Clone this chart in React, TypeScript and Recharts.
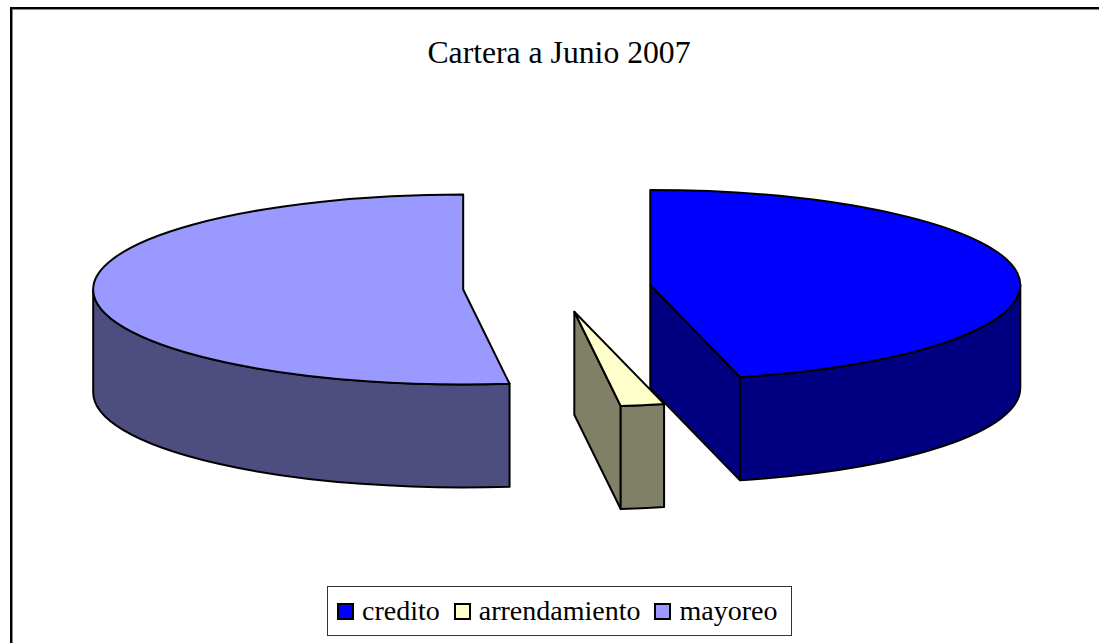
import React from 'react';
import { PieChart, Pie, Legend } from 'recharts';

const names = ['credito', 'arrendamiento', 'mayoreo'];
const values = [46.1, 1.9, 52.0];
const topColors = ['#0000FF', '#FFFFCC', '#9999FF'];
const sideColors = ['#000080', '#808066', '#4D4D80'];

const data = names.map((name, i) => ({ name, value: values[i], fill: topColors[i], side: sideColors[i] }));

const W = 1089, H = 636;
const RX = 370, RY = 95, DEPTH = 103, EXPLODE = 94;
const K = RY / RX;

const Slice3D = (props: any) => {
  const { cx, cy, startAngle, endAngle, fill, payload } = props;
  const side = payload?.side ?? props.side;
  const t0 = 90 - Math.max(startAngle, endAngle);
  const t1 = 90 - Math.min(startAngle, endAngle);
  const rad = (d: number) => (d * Math.PI) / 180;
  const mid = rad((t0 + t1) / 2);
  const ox = cx + EXPLODE * Math.sin(mid);
  const oy = cy - EXPLODE * Math.cos(mid) * K;
  const P = (t: number, dz = 0) => [ox + RX * Math.sin(rad(t)), oy - RY * Math.cos(rad(t)) + dz];
  const f = (p: number[]) => `${p[0].toFixed(2)} ${p[1].toFixed(2)}`;
  const arc = (a: number, b: number, dz = 0) => {
    const large = Math.abs(b - a) > 180 ? 1 : 0;
    const sweep = b > a ? 1 : 0;
    return `A ${RX} ${RY} 0 ${large} ${sweep} ${f(P(b, dz))}`;
  };
  const apex = [ox, oy];
  const apexB = [ox, oy + DEPTH];
  const stroke = { stroke: '#000', strokeWidth: 2, strokeLinejoin: 'round' as const };
  const wa = Math.max(t0, 90), wb = Math.min(t1, 270);
  return (
    <g>
      {t1 < 180 && t1 > 0 && (
        <path d={`M ${f(apex)} L ${f(P(t1))} L ${f(P(t1, DEPTH))} L ${f(apexB)} Z`} fill={side} {...stroke} />
      )}
      {t0 > 180 && t0 < 360 && (
        <path d={`M ${f(apex)} L ${f(P(t0))} L ${f(P(t0, DEPTH))} L ${f(apexB)} Z`} fill={side} {...stroke} />
      )}
      {wb > wa && (
        <path d={`M ${f(P(wa))} ${arc(wa, wb)} L ${f(P(wb, DEPTH))} ${arc(wb, wa, DEPTH)} Z`} fill={side} {...stroke} />
      )}
      <path d={`M ${f(apex)} L ${f(P(t0))} ${arc(t0, t1)} Z`} fill={fill} {...stroke} />
    </g>
  );
};

const LegendBox = ({ payload }: any) => (
  <div
    style={{
      display: 'flex',
      alignItems: 'center',
      boxSizing: 'border-box',
      width: 465,
      height: 50,
      border: '1px solid #333',
      background: '#fff',
      paddingLeft: 9,
      fontFamily: '"Liberation Serif", serif',
      fontSize: 28,
      color: '#000',
      whiteSpace: 'nowrap',
    }}
  >
    {(payload ?? []).map((p: any, i: number) => (
      <span key={p.value} style={{ display: 'flex', alignItems: 'center', marginLeft: i ? 14 : 0 }}>
        <span
          style={{
            display: 'inline-block',
            boxSizing: 'border-box',
            width: 17,
            height: 17,
            border: '2px solid #000',
            background: p.color,
            marginRight: 8,
          }}
        />
        {p.value}
      </span>
    ))}
  </div>
);

export default function App() {
  return (
    <div
      style={{
        position: 'absolute',
        left: 10,
        top: 7,
        width: W,
        height: H,
        boxSizing: 'border-box',
        borderLeft: '2px solid #000',
        borderTop: '2px solid #000',
        boxShadow: 'inset 1px 1px 0 #888',
        overflow: 'hidden',
      }}
    >
      <PieChart width={W - 2} height={H - 2} margin={{ top: 0, right: 0, bottom: 0, left: 0 }}>
        <text
          x={547}
          y={54}
          textAnchor="middle"
          style={{ fontFamily: '"Liberation Serif", serif', fontSize: 31.7, fill: '#000' }}
        >
          Cartera a Junio 2007
        </text>
        <Pie
          data={data}
          dataKey="value"
          nameKey="name"
          cx={545}
          cy={279}
          outerRadius={RX}
          startAngle={90}
          endAngle={-270}
          stroke="none"
          isAnimationActive={false}
          shape={Slice3D}
          rootTabIndex={-1}
        />
        <Legend
          content={<LegendBox />}
          itemSorter={null}
          layout="horizontal"
          wrapperStyle={{ position: 'absolute', left: 315, top: 577, width: 465, height: 50 }}
        />
      </PieChart>
    </div>
  );
}
